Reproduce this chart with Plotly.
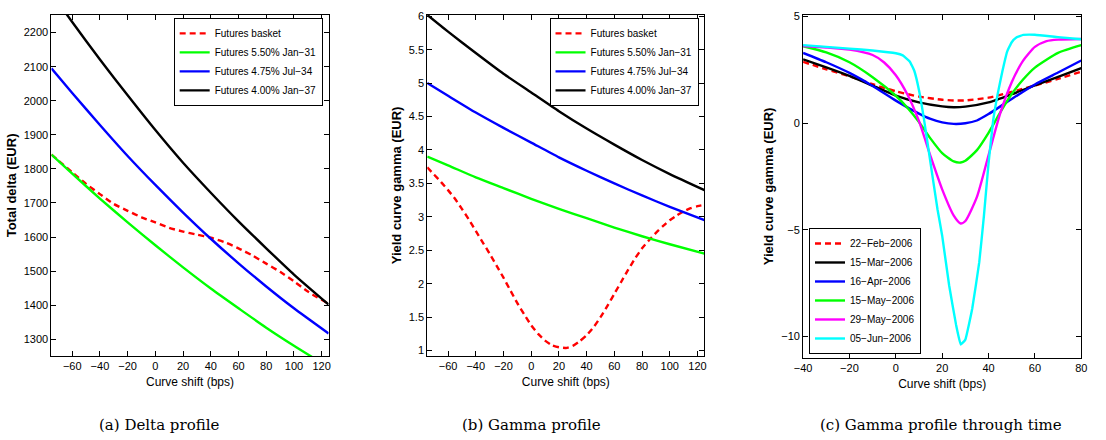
import plotly.graph_objects as go

# ---------- Panel (a): Delta profile ----------
a_x = [-75, -60, -40, -20, 0, 20, 40, 60, 80, 100, 125]
a_black_y = [2317, 2231, 2121, 2016, 1914, 1818, 1730, 1646, 1567, 1490, 1402]
a_blue_y = [2095, 2023, 1929, 1838, 1753, 1672, 1595, 1523, 1455, 1391, 1317]
a_green_y = [1842, 1786, 1713, 1643, 1576, 1511, 1449, 1391, 1334, 1281, 1218]
a_red_x = [-75, -60, -50, -40, -30, -20, -10, 0, 10, 20, 30, 40, 50, 60, 70, 80, 90, 100, 110, 125]
a_red_y = [1842, 1790, 1756, 1726, 1697, 1677, 1658, 1643, 1627, 1616, 1607, 1598, 1585, 1567,
           1546, 1522, 1498, 1470, 1440, 1404]

# ---------- Panel (b): Gamma profile ----------
b_x = [-75, -60, -40, -20, 0, 20, 40, 60, 80, 100, 125]
b_black_y = [6.02, 5.77, 5.45, 5.14, 4.86, 4.58, 4.32, 4.08, 3.85, 3.64, 3.40]
b_blue_y = [5.00, 4.81, 4.56, 4.33, 4.11, 3.89, 3.69, 3.50, 3.32, 3.15, 2.95]
b_green_y = [3.90, 3.77, 3.59, 3.43, 3.27, 3.12, 2.98, 2.84, 2.71, 2.59, 2.45]
b_red_x = [-75, -70, -65, -60, -55, -50, -45, -40, -35, -30, -25, -20, -15, -10, -5, 0, 5, 10, 15,
           20, 25, 30, 35, 40, 45, 50, 55, 60, 65, 70, 75, 80, 85, 90, 95, 100, 105, 110, 115, 120, 125]
b_red_y = [3.74, 3.63, 3.52, 3.40, 3.27, 3.12, 2.96, 2.79, 2.62, 2.45, 2.27, 2.09, 1.90, 1.71, 1.54,
           1.38, 1.25, 1.15, 1.08, 1.05, 1.04, 1.07, 1.14, 1.23, 1.35, 1.50, 1.67, 1.85, 2.03, 2.21,
           2.38, 2.53, 2.65, 2.76, 2.86, 2.95, 3.02, 3.08, 3.13, 3.16, 3.18]

# ---------- Panel (c): Gamma profile through time ----------
c_feb_x = [-40, -30, -20, -10, 0, 10, 20, 25, 30, 40, 50, 60, 70, 80]
c_feb_y = [2.88, 2.53, 2.20, 1.83, 1.50, 1.25, 1.10, 1.07, 1.07, 1.20, 1.47, 1.77, 2.08, 2.42]
c_mar_x = [-40, -30, -20, -10, 0, 10, 20, 25, 30, 40, 50, 60, 70, 80]
c_mar_y = [3.00, 2.62, 2.22, 1.76, 1.30, 0.98, 0.79, 0.75, 0.78, 0.98, 1.36, 1.78, 2.17, 2.58]
c_apr_x = [-40, -30, -20, -10, 0, 10, 15, 20, 25, 30, 35, 40, 50, 60, 70, 80]
c_apr_y = [3.30, 2.86, 2.36, 1.75, 1.06, 0.45, 0.20, 0.04, -0.03, 0.00, 0.13, 0.43, 1.14, 1.82, 2.38, 2.94]
c_may15_x = [-40, -30, -20, -10, 0, 5, 10, 15, 20, 25, 28, 30, 35, 40, 45, 50, 55, 60, 70, 80]
c_may15_y = [3.61, 3.32, 2.86, 2.16, 1.29, 0.73, 0.06, -0.72, -1.40, -1.79, -1.84, -1.76, -1.26, -0.45,
             0.50, 1.37, 2.06, 2.61, 3.30, 3.66]
c_may29_x = [-40, -30, -20, -10, -5, 0, 5, 10, 15, 20, 25, 28, 30, 35, 40, 45, 50, 55, 60, 65, 70, 80]
c_may29_y = [3.62, 3.55, 3.45, 3.20, 2.85, 2.25, 1.35, 0.10, -1.55, -3.10, -4.33, -4.70, -4.58, -3.45,
             -1.50, 0.45, 1.92, 2.95, 3.58, 3.85, 3.92, 3.95]
c_jun_x = [-40, -20, -10, 0, 3, 6, 8, 10, 12, 15, 18, 20, 23, 26, 28, 30, 33, 36, 38, 40, 42, 44,
           46, 48, 50, 52, 55, 60, 70, 80]
c_jun_y = [3.66, 3.50, 3.41, 3.28, 3.18, 2.90, 2.45, 1.55, 0.30, -1.88, -4.04, -5.27, -7.59, -9.45,
           -10.37, -10.14, -8.67, -6.51, -4.35, -1.88, 0.13, 1.40, 2.45, 3.35, 3.80, 4.02, 4.14, 4.15,
           4.04, 3.94]

RED, GREEN, BLUE, BLACK, MAG, CYAN = "#ff0000", "#00ff00", "#0000ff", "#000000", "#ff00ff", "#00ffff"
LW = 2.4
SANS = "Liberation Sans Narrow, Liberation Sans, Arial"
TICKFONT = dict(family=SANS, size=11, color="black")
LEGFONT = dict(family=SANS, size=10, color="black")

fig = go.Figure()

def add(x, y, name, color, xa, ya, leg, dash="solid", smooth=0.6):
    fig.add_trace(go.Scatter(x=x, y=y, name=name, mode="lines", xaxis=xa, yaxis=ya, legend=leg,
                             line=dict(color=color, width=LW, dash=dash, shape="spline", smoothing=smooth)))

DASH = "6px,4px"
add(a_red_x, a_red_y, "Futures basket", RED, "x", "y", "legend", dash=DASH)
add(a_x, a_green_y, "Futures 5.50% Jan−31", GREEN, "x", "y", "legend")
add(a_x, a_blue_y, "Futures 4.75% Jul−34", BLUE, "x", "y", "legend")
add(a_x, a_black_y, "Futures 4.00% Jan−37", BLACK, "x", "y", "legend")

add(b_red_x, b_red_y, "Futures basket", RED, "x2", "y2", "legend2", dash=DASH)
add(b_x, b_green_y, "Futures 5.50% Jan−31", GREEN, "x2", "y2", "legend2")
add(b_x, b_blue_y, "Futures 4.75% Jul−34", BLUE, "x2", "y2", "legend2")
add(b_x, b_black_y, "Futures 4.00% Jan−37", BLACK, "x2", "y2", "legend2")

add(c_feb_x, c_feb_y, "22−Feb−2006", RED, "x3", "y3", "legend3", dash=DASH)
add(c_mar_x, c_mar_y, "15−Mar−2006", BLACK, "x3", "y3", "legend3")
add(c_apr_x, c_apr_y, "16−Apr−2006", BLUE, "x3", "y3", "legend3")
add(c_may15_x, c_may15_y, "15−May−2006", GREEN, "x3", "y3", "legend3")
add(c_may29_x, c_may29_y, "29−May−2006", MAG, "x3", "y3", "legend3")
add(c_jun_x, c_jun_y, "05−Jun−2006", CYAN, "x3", "y3", "legend3", smooth=0.3)

W, H = 1106, 440
def px(v): return v / W
def py(v): return 1 - v / H

axis_common = dict(showline=True, linecolor="black", linewidth=1, mirror="allticks", ticks="inside",
                   ticklen=5, tickcolor="black", showgrid=False, zeroline=False, tickfont=TICKFONT)
xtitle = dict(text="Curve shift (bps)", font=dict(family=SANS, size=12, color="black"), standoff=6)
ytfont = dict(family="Liberation Sans, Arial", size=13, color="black")

fig.update_layout(
    width=W, height=H, margin=dict(l=0, r=0, t=0, b=0),
    paper_bgcolor="white", plot_bgcolor="white",
    xaxis=dict(domain=[px(43), px(324)], range=[-75, 125], tickvals=list(range(-60, 121, 20)),
               anchor="y", title=xtitle, **axis_common),
    yaxis=dict(domain=[py(355), py(10)], range=[1251, 2252], tickvals=list(range(1300, 2201, 100)),
               anchor="x", title=dict(text="<b>Total delta (EUR)</b>", font=ytfont, standoff=4), **axis_common),
    xaxis2=dict(domain=[px(424), px(705)], range=[-75, 125], tickvals=list(range(-60, 121, 20)),
                anchor="y2", title=xtitle, **axis_common),
    yaxis2=dict(domain=[py(355), py(10)], range=[0.92, 6.02], tickvals=[1, 1.5, 2, 2.5, 3, 3.5, 4, 4.5, 5, 5.5, 6],
                ticktext=["1", "1.5", "2", "2.5", "3", "3.5", "4", "4.5", "5", "5.5", "6"],
                anchor="x2", title=dict(text="<b>Yield curve gamma (EUR)</b>", font=ytfont, standoff=4), **axis_common),
    xaxis3=dict(domain=[px(805), px(1087)], range=[-40, 80], tickvals=list(range(-40, 81, 20)),
                anchor="y3", title=xtitle, **axis_common),
    yaxis3=dict(domain=[py(357), py(10)], range=[-11, 5.08], tickvals=[-10, -5, 0, 5],
                anchor="x3", title=dict(text="<b>Yield curve gamma (EUR)</b>", font=ytfont, standoff=4), **axis_common),
    legend=dict(x=px(318), y=py(13), xanchor="right", yanchor="top", bgcolor="white",
                bordercolor="black", borderwidth=1, font=LEGFONT, tracegroupgap=0, itemwidth=30),
    legend2=dict(x=px(699), y=py(13), xanchor="right", yanchor="top", bgcolor="white",
                 bordercolor="black", borderwidth=1, font=LEGFONT, tracegroupgap=0, itemwidth=30),
    legend3=dict(x=px(811), y=py(353), xanchor="left", yanchor="bottom", bgcolor="white",
                 bordercolor="black", borderwidth=1, font=LEGFONT, tracegroupgap=0, itemwidth=30),
    showlegend=True,
)

capfont = dict(family="DejaVu Serif, Liberation Serif, serif", size=15, color="black")
for txt, cx in [("(a) Delta profile", 152), ("(b) Gamma profile", 530), ("(c) Gamma profile through time", 945)]:
    fig.add_annotation(text=txt, x=px(cx), y=py(425), xref="paper", yref="paper", showarrow=False,
                       xanchor="center", yanchor="middle", font=capfont)

fig.write_html("out.html")
